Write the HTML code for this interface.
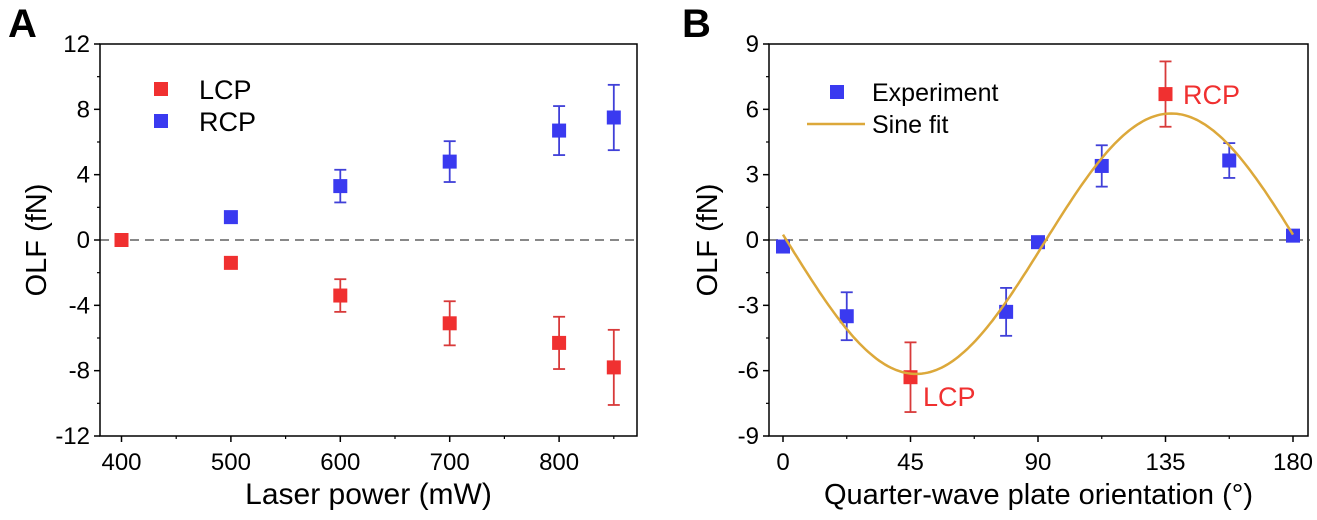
<!DOCTYPE html>
<html><head><meta charset="utf-8"><style>
html,body{margin:0;padding:0;background:#fff;}
svg{display:block;font-family:"Liberation Sans",Arial,sans-serif;}
</style></head><body>
<svg id="s" width="1317" height="520" viewBox="0 0 1317 520" xmlns="http://www.w3.org/2000/svg"></svg>
<script>
const S=document.getElementById('s');let h='';
const R='#f03030',B='#3a3af0',RE='#d83a3a',BE='#4040d8';
function ln(x1,y1,x2,y2,c,w,d){h+=`<line x1="${x1}" y1="${y1}" x2="${x2}" y2="${y2}" stroke="${c}" stroke-width="${w}" ${d?'stroke-dasharray="'+d+'"':''}/>`;}
function tx(x,y,t,sz,a,c,extra){h+=`<text x="${x}" y="${y}" font-size="${sz}" text-anchor="${a||'middle'}" fill="${c||'#000'}" ${extra||''}>${t}</text>`;}
function sq(x,y,c){h+=`<rect x="${x-7}" y="${y-7}" width="14" height="14" fill="${c}"/>`;}
function eb(x,y1,y2,c){ln(x,y1,x,y2,c,1.8);ln(x-6,y1,x+6,y1,c,1.8);ln(x-6,y2,x+6,y2,c,1.8);}
// Panel A
{const L=100,Rr=637,T=44,Bt=436;const X=v=>121.5+(v-400)*1.094,Y=v=>240-v*(Bt-T)/24;
ln(L,240,Rr+2,240,'#888',2,'9,6');
h+=`<rect x="${L}" y="${T}" width="${Rr-L}" height="${Bt-T}" fill="none" stroke="#000" stroke-width="1.5"/>`;
for(let v=-12;v<=12;v+=4){ln(L-6,Y(v),L,Y(v),'#000',1.5);tx(L-10,Y(v)+8,v,24,'end');}
for(let v=-10;v<=10;v+=4){ln(L-3,Y(v),L,Y(v),'#000',1.2);}
for(let v=400;v<=800;v+=100){ln(X(v),Bt,X(v),Bt+6,'#000',1.5);tx(X(v),Bt+34,v,24);}
for(let v=450;v<=850;v+=100){ln(X(v),Bt,X(v),Bt+3,'#000',1.2);}
tx((L+Rr)/2,Bt+68,'Laser power (mW)',30);
tx(36,240,'OLF (fN)',29,'middle','#000','transform="rotate(-90 36 240)" dy="10"');
tx(8,37,'A',40,'start','#000','font-weight="bold"');
const l=[[400,0,0],[500,-1.4,0],[600,-3.4,1],[700,-5.1,1.35],[800,-6.3,1.6],[850,-7.8,2.3]];
const r=[[400,0,0],[500,1.4,0],[600,3.3,1],[700,4.8,1.25],[800,6.7,1.5],[850,7.5,2]];
r.forEach(p=>{if(p[2])eb(X(p[0]),Y(p[1]+p[2]),Y(p[1]-p[2]),BE);sq(X(p[0]),Y(p[1]),B);});
l.forEach(p=>{if(p[2])eb(X(p[0]),Y(p[1]+p[2]),Y(p[1]-p[2]),RE);sq(X(p[0]),Y(p[1]),R);});
sq(161,89,R);sq(161,121,B);tx(199,99,'LCP',27,'start');tx(199,131,'RCP',27,'start');}
// Panel B
{const L=769,Rr=1308,T=44,Bt=436;const X=v=>783+(v)*510/180,Y=v=>240-v*(Bt-T)/18;
ln(L,240,Rr+2,240,'#888',2,'9,6');
h+=`<rect x="${L}" y="${T}" width="${Rr-L}" height="${Bt-T}" fill="none" stroke="#000" stroke-width="1.5"/>`;
for(let v=-9;v<=9;v+=3){ln(L-6,Y(v),L,Y(v),'#000',1.5);tx(L-10,Y(v)+8,v,24,'end');}
for(let v=-7.5;v<=7.5;v+=3){ln(L-3,Y(v),L,Y(v),'#000',1.2);}
for(let v=0;v<=180;v+=45){ln(X(v),Bt,X(v),Bt+6,'#000',1.5);tx(X(v),Bt+34,v,24);}
for(let v=22.5;v<=180;v+=45){ln(X(v),Bt,X(v),Bt+3,'#000',1.2);}
tx((L+Rr)/2,Bt+68,'Quarter-wave plate orientation (°)',29);
tx(707,240,'OLF (fN)',29,'middle','#000','transform="rotate(-90 707 240)" dy="10"');
tx(682,37,'B',40,'start','#000','font-weight="bold"');
const d=[[0,-0.3,0,B],[22.5,-3.5,1.1,B],[45,-6.3,1.6,R],[78.75,-3.3,1.1,B],[90,-0.1,0.2,B],[112.5,3.4,0.95,B],[135,6.7,1.5,R],[157.5,3.65,0.8,B],[180,0.2,0.2,B]];
d.forEach(p=>{const c=p[3]==R?RE:BE;if(p[2]>0.3)eb(X(p[0]),Y(p[1]+p[2]),Y(p[1]-p[2]),c);sq(X(p[0]),Y(p[1]),p[3]);});
let pts=[];for(let x=0;x<=180;x+=1){const y=-0.17-5.98*Math.sin(2*(x-2)*Math.PI/180);pts.push(X(x).toFixed(1)+','+Y(y).toFixed(1));}
h+=`<polyline points="${pts.join(' ')}" fill="none" stroke="#dca83a" stroke-width="2.5"/>`;
sq(837,92,B);ln(807,124,865,124,'#dca83a',2.5);tx(872,101,'Experiment',25,'start');tx(872,133,'Sine fit',25,'start');
tx(1183,104,'RCP',27,'start',R);tx(923,406,'LCP',27,'start',R);}
S.innerHTML=h;
</script>
</body></html>
